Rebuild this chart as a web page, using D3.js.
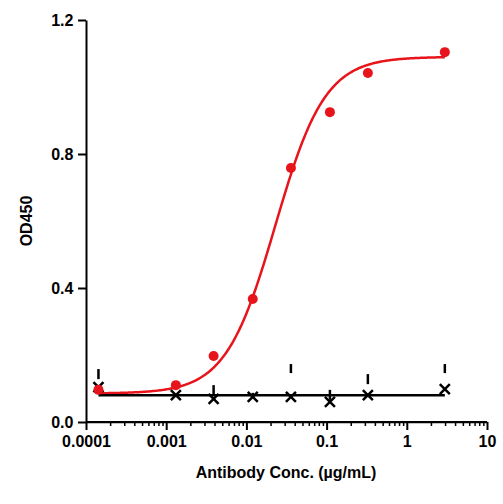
<!DOCTYPE html>
<html><head><meta charset="utf-8">
<script src="https://cdn.jsdelivr.net/npm/d3@7"></script>
<style>body{margin:0;background:#fff}text{font-family:Arial,"Liberation Sans",sans-serif;font-weight:bold}</style>
</head><body>
<svg id="chart" width="503" height="504"></svg>
<script>
// measured points
var redConc = [0.000143, 0.00132, 0.0039, 0.012, 0.0359, 0.11, 0.327, 2.98];
var redOD = [0.096, 0.11, 0.197, 0.367, 0.758, 0.925, 1.042, 1.104];
var blackConc = [0.000143, 0.00132, 0.0039, 0.012, 0.0359, 0.11, 0.327, 2.98];
var blackOD = [0.104, 0.08, 0.069, 0.075, 0.075, 0.06, 0.08, 0.098];
var errLow = [0.128, null, 0.081, 0.075, 0.146, 0.066, 0.113, 0.146];
var errHigh = [0.158, null, 0.110, 0.087, 0.173, 0.096, 0.143, 0.173];
// 4PL fit parameters (bottom, top, ec50, hill)
var redFit = [0.085, 1.09, 0.023, 1.4];
var blackLevel = 0.08;
var xTicks = [0.0001, 0.001, 0.01, 0.1, 1, 10];
var xTickLabels = ["0.0001", "0.001", "0.01", "0.1", "1", "10"];
var yTicks = [0, 0.4, 0.8, 1.2];

var svg = d3.select("#chart");
var x = d3.scaleLog().domain([0.0001, 10]).range([86, 487]);
var y = d3.scaleLinear().domain([0, 1.2]).range([422, 20]);

// axes
var minor = [];
for (var d = -4; d < 1; d++) for (var k = 2; k < 10; k++) minor.push(k * Math.pow(10, d));
svg.append("g").attr("transform", "translate(0,422)")
  .call(d3.axisBottom(x).tickValues(minor).tickFormat("").tickSize(4).tickSizeOuter(0))
  .call(g => g.selectAll("line,path").attr("stroke-width", 1.5));
svg.append("g").attr("transform", "translate(0,422)")
  .call(d3.axisBottom(x).tickValues(xTicks).tickFormat((v, i) => xTickLabels[i]).tickSize(8).tickSizeOuter(0))
  .call(g => g.select("path").attr("stroke-width", 2).attr("d", "M86,0H487"))
  .call(g => g.selectAll("line").attr("stroke-width", 2))
  .call(g => g.selectAll("text").attr("font-size", 16).attr("dy", "0.85em"));
svg.append("g").attr("transform", "translate(86,0)")
  .call(d3.axisLeft(y).tickValues(yTicks).tickFormat(d3.format(".1f")).tickSize(8).tickSizeOuter(0))
  .call(g => g.select("path").attr("stroke-width", 2))
  .call(g => g.selectAll("line").attr("stroke-width", 2))
  .call(g => g.selectAll("text").attr("font-size", 16).attr("dx", "-0.1em"));

svg.append("text").attr("x", 286).attr("y", 478).attr("text-anchor", "middle")
  .attr("font-size", 16).text("Antibody Conc. (µg/mL)");
svg.append("text").attr("transform", "translate(32,221) rotate(-90)").attr("text-anchor", "middle")
  .attr("font-size", 16).text("OD450");

// fitted curves
function fpl(c, p) { return p[0] + (p[1] - p[0]) / (1 + Math.pow(p[2] / c, p[3])); }
var xs = d3.range(0, 301).map(i => Math.pow(10, Math.log10(0.000143) + i / 300 * (Math.log10(2.98) - Math.log10(0.000143))));
svg.append("path").datum(xs).attr("fill", "none").attr("stroke", "#e8141b").attr("stroke-width", 2.5)
  .attr("d", d3.line().x(c => x(c)).y(c => y(fpl(c, redFit))));
svg.append("line").attr("x1", x(0.000143)).attr("x2", x(2.98))
  .attr("y1", y(blackLevel)).attr("y2", y(blackLevel)).attr("stroke", "#000").attr("stroke-width", 2.5);

// error bars
svg.selectAll(".err").data(blackConc.map((c, i) => [c, errLow[i], errHigh[i]]).filter(d => d[1] != null))
  .enter().append("line").attr("x1", d => x(d[0])).attr("x2", d => x(d[0]))
  .attr("y1", d => y(d[1])).attr("y2", d => y(d[2])).attr("stroke", "#000").attr("stroke-width", 2.5);

// black crosses
var s = 5;
svg.selectAll(".cross").data(blackConc.map((c, i) => [c, blackOD[i]])).enter().append("path")
  .attr("d", d => { var cx = x(d[0]), cy = y(d[1]); return "M" + (cx - s) + "," + (cy - s) + "L" + (cx + s) + "," + (cy + s) + "M" + (cx - s) + "," + (cy + s) + "L" + (cx + s) + "," + (cy - s); })
  .attr("stroke", "#000").attr("stroke-width", 2.5);

// red dots
svg.selectAll(".dot").data(redConc.map((c, i) => [c, redOD[i]])).enter().append("circle")
  .attr("cx", d => x(d[0])).attr("cy", d => y(d[1])).attr("r", 5).attr("fill", "#e8141b");
</script>
</body></html>
